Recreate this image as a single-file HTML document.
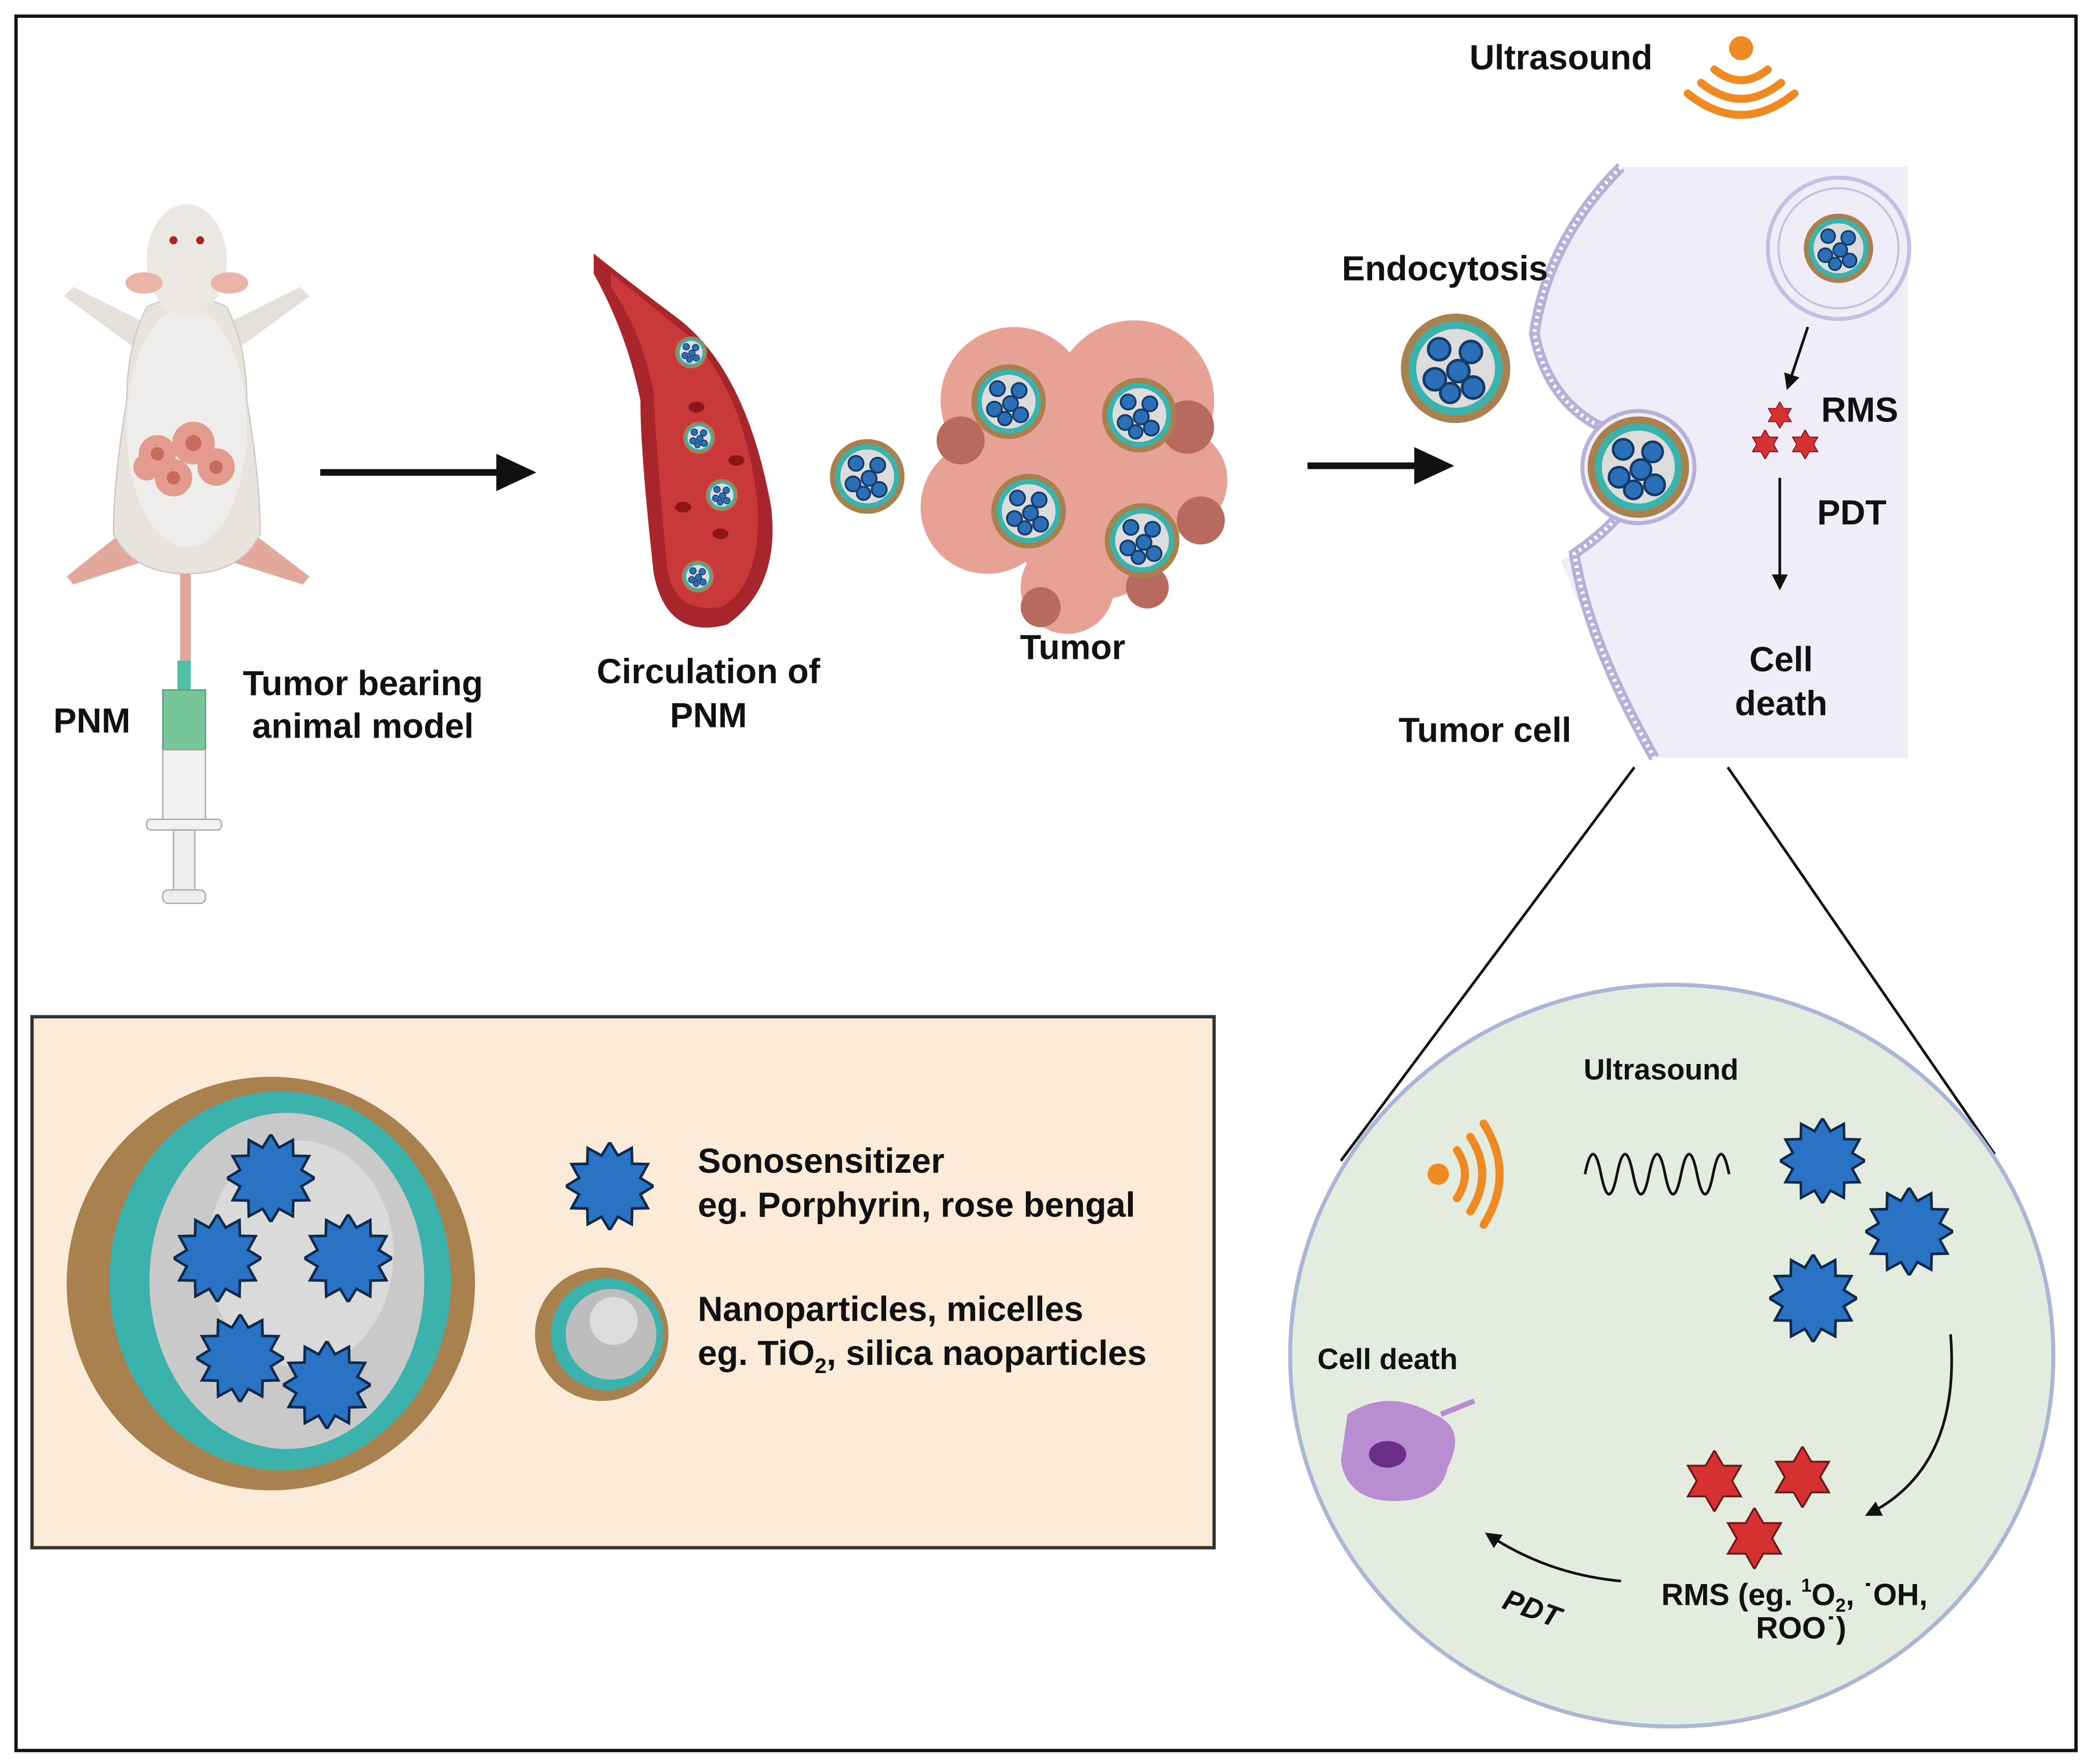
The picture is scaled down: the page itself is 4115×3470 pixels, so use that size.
<!DOCTYPE html>
<html><head><meta charset="utf-8"><style>
html,body{margin:0;padding:0;background:#fff}
svg{display:block}
text{font-family:"Liberation Sans",sans-serif;font-weight:bold;fill:#111}
</style></head><body>
<svg width="4115" height="3470" viewBox="0 0 1568 1322" xmlns="http://www.w3.org/2000/svg">
<defs>
<symbol id="np" viewBox="-1 -1 2 2">
<circle r="1" fill="#a8814f"/><circle r="0.86" fill="#3bb3ac"/><circle r="0.72" fill="#dcdcdc"/>
<circle cx="-0.3" cy="-0.35" r="0.2" fill="#2a6fb8" stroke="#163a66" stroke-width="0.05"/>
<circle cx="0.28" cy="-0.3" r="0.2" fill="#2a6fb8" stroke="#163a66" stroke-width="0.05"/>
<circle cx="-0.38" cy="0.2" r="0.2" fill="#2a6fb8" stroke="#163a66" stroke-width="0.05"/>
<circle cx="0.05" cy="0.05" r="0.2" fill="#2a6fb8" stroke="#163a66" stroke-width="0.05"/>
<circle cx="0.32" cy="0.35" r="0.2" fill="#2a6fb8" stroke="#163a66" stroke-width="0.05"/>
<circle cx="-0.1" cy="0.45" r="0.18" fill="#2a6fb8" stroke="#163a66" stroke-width="0.05"/>
</symbol>
<symbol id="spk" viewBox="-1 -1 2 2"><polygon fill="#2a72c4" stroke="#0d2a4d" stroke-width="0.06" points="1,0 0.695,0.186 0.866,0.5 0.509,0.509 0.5,0.866 0.186,0.695 0,1 -0.186,0.695 -0.5,0.866 -0.509,0.509 -0.866,0.5 -0.695,0.186 -1,0 -0.695,-0.186 -0.866,-0.5 -0.509,-0.509 -0.5,-0.866 -0.186,-0.695 0,-1 0.186,-0.695 0.5,-0.866 0.509,-0.509 0.866,-0.5 0.695,-0.186"/></symbol>
<symbol id="hex" viewBox="-1 -1 2 2"><polygon fill="#d63131" stroke="#6b1515" stroke-width="0.06" points="0,-1 0.289,-0.5 0.866,-0.5 0.577,0 0.866,0.5 0.289,0.5 0,1 -0.289,0.5 -0.866,0.5 -0.577,0 -0.866,-0.5 -0.289,-0.5"/></symbol>
<marker id="ah" viewBox="0 0 10 10" refX="8" refY="5" markerWidth="6" markerHeight="6" orient="auto"><path d="M0,0L10,5L0,10z" fill="#111"/></marker>
</defs>
<rect x="12" y="12" width="1544" height="1300" fill="#fff" stroke="#111" stroke-width="2.5"/>

<!-- mouse -->
<path d="M105,240 L55,215 L48,222 L100,260 L105,260Z M175,240 L225,215 L232,222 L180,260 L175,260Z" fill="#e5e0da"/>
<path d="M90,400 L50,432 L55,438 L110,420Z M190,400 L232,432 L227,438 L170,420Z" fill="#e3a89c"/>
<path d="M110,230 Q95,260 95,300 Q85,360 85,400 Q100,430 140,430 Q180,430 195,400 Q195,360 185,300 Q185,260 170,230 Q140,215 110,230Z" fill="#e8e3dd" stroke="#cfc8c0"/>
<ellipse cx="140" cy="320" rx="45" ry="90" fill="#efedeb"/>
<ellipse cx="140" cy="195" rx="30" ry="42" fill="#ebe7e2"/>
<ellipse cx="108" cy="212" rx="14" ry="8" fill="#eab5a8"/><ellipse cx="172" cy="212" rx="14" ry="8" fill="#eab5a8"/>
<circle cx="130" cy="180" r="3" fill="#b02020"/><circle cx="150" cy="180" r="3" fill="#b02020"/>
<g fill="#e29b8c"><circle cx="118" cy="340" r="14"/><circle cx="145" cy="332" r="16"/><circle cx="162" cy="350" r="14"/><circle cx="130" cy="358" r="14"/><circle cx="110" cy="350" r="10"/></g>
<g fill="#c76b5c"><circle cx="118" cy="340" r="5"/><circle cx="145" cy="332" r="6"/><circle cx="162" cy="350" r="5"/><circle cx="130" cy="358" r="5"/></g>
<rect x="135" y="430" width="8" height="75" fill="#e3a59a"/>
<rect x="133" y="495" width="10" height="22" fill="#4fbfa5"/>
<rect x="122" y="517" width="32" height="45" fill="#76c69a" stroke="#5a9a77"/>
<rect x="122" y="562" width="32" height="52" fill="#f2f2f2" stroke="#aaa"/>
<rect x="110" y="614" width="56" height="8" rx="3" fill="#f2f2f2" stroke="#aaa"/>
<rect x="130" y="622" width="16" height="45" fill="#eee" stroke="#aaa"/>
<rect x="122" y="667" width="32" height="10" rx="4" fill="#eee" stroke="#aaa"/>
<text x="40" y="549" font-size="26">PNM</text>
<text x="272" y="521" font-size="26" text-anchor="middle">Tumor bearing</text>
<text x="272" y="553" font-size="26" text-anchor="middle">animal model</text>

<line x1="240" y1="354" x2="378" y2="354" stroke="#111" stroke-width="5"/>
<path d="M372,340 L402,354 L372,368Z" fill="#111"/>

<!-- vessel -->
<path d="M445,190 Q470,210 510,240 Q560,280 578,380 Q585,440 545,468 Q500,480 490,430 Q480,340 480,300 Q470,250 445,205Z" fill="#a8262b"/>
<path d="M458,205 Q490,230 520,255 Q560,300 568,380 Q570,440 540,455 Q505,460 500,425 Q492,340 490,295 Q482,250 458,215Z" fill="#c9393c"/>
<g fill="#8d1418"><ellipse cx="522" cy="305" rx="6" ry="4"/><ellipse cx="512" cy="380" rx="6" ry="4"/><ellipse cx="540" cy="400" rx="6" ry="4"/><ellipse cx="552" cy="345" rx="6" ry="4"/></g>
<use href="#np" x="506" y="252" width="24" height="24"/><use href="#np" x="512" y="316" width="24" height="24"/>
<use href="#np" x="529" y="359" width="24" height="24"/><use href="#np" x="511" y="420" width="24" height="24"/>
<text x="531" y="512" font-size="26" text-anchor="middle">Circulation of</text>
<text x="531" y="545" font-size="26" text-anchor="middle">PNM</text>
<use href="#np" x="622" y="329" width="56" height="56"/>

<!-- tumor -->
<g fill="#e7a195"><circle cx="760" cy="300" r="55"/><circle cx="850" cy="300" r="60"/><circle cx="740" cy="380" r="50"/><circle cx="820" cy="390" r="60"/><circle cx="880" cy="360" r="40"/><circle cx="800" cy="440" r="35"/></g>
<g fill="#b86a5e"><circle cx="720" cy="330" r="18"/><circle cx="890" cy="320" r="20"/><circle cx="900" cy="390" r="18"/><circle cx="780" cy="455" r="15"/><circle cx="860" cy="440" r="16"/></g>
<use href="#np" x="728" y="273" width="56" height="56"/><use href="#np" x="826" y="283" width="56" height="56"/>
<use href="#np" x="743" y="355" width="56" height="56"/><use href="#np" x="828" y="377" width="56" height="56"/>
<text x="804" y="494" font-size="26" text-anchor="middle">Tumor</text>

<line x1="980" y1="349" x2="1065" y2="349" stroke="#111" stroke-width="5"/>
<path d="M1060,335 L1090,349 L1060,363Z" fill="#111"/>

<!-- cell panel -->
<text x="1170" y="52" font-size="26" text-anchor="middle">Ultrasound</text>
<circle cx="1305" cy="36" r="9" fill="#ef8a22"/>
<g fill="none" stroke="#ef8a22" stroke-width="6" stroke-linecap="round"><path d="M1285,52 Q1305,68 1325,52"/><path d="M1275,62 Q1305,86 1335,62"/><path d="M1265,70 Q1305,102 1345,70"/></g>
<path d="M1215,125 L1430,125 L1430,568 L1240,568 Q1190,470 1170,420 Q1245,380 1200,320 Q1160,300 1150,250 Q1165,180 1215,125Z" fill="#f0edf8"/>
<path d="M1215,125 Q1160,180 1150,250 Q1160,300 1200,320 Q1260,360 1180,415 Q1190,480 1240,568" fill="none" stroke="#b7b0d8" stroke-width="8"/>
<path d="M1215,125 Q1160,180 1150,250 Q1160,300 1200,320 Q1260,360 1180,415 Q1190,480 1240,568" fill="none" stroke="#fff" stroke-width="3" stroke-dasharray="2 3"/>
<circle cx="1228" cy="350" r="42" fill="#f0edf8" stroke="#b7b0d8" stroke-width="3"/>
<use href="#np" x="1190" y="312" width="76" height="76"/>
<use href="#np" x="1050" y="235" width="82" height="82"/>
<text x="1083" y="210" font-size="26" text-anchor="middle">Endocytosis</text>
<circle cx="1378" cy="186" r="53" fill="#f0edf8" stroke="#c5bfe3" stroke-width="3"/>
<circle cx="1378" cy="186" r="45" fill="none" stroke="#c5bfe3" stroke-width="1.5"/>
<use href="#np" x="1352" y="160" width="52" height="52"/>
<line x1="1355" y1="245" x2="1340" y2="290" stroke="#111" stroke-width="2" marker-end="url(#ah)"/>
<use href="#hex" x="1324" y="301" width="20" height="20"/><use href="#hex" x="1312" y="322" width="22" height="22"/><use href="#hex" x="1342" y="322" width="22" height="22"/>
<text x="1365" y="316" font-size="26">RMS</text>
<line x1="1334" y1="358" x2="1334" y2="440" stroke="#111" stroke-width="2" marker-end="url(#ah)"/>
<text x="1362" y="393" font-size="26">PDT</text>
<text x="1335" y="503" font-size="26" text-anchor="middle">Cell</text>
<text x="1335" y="536" font-size="26" text-anchor="middle">death</text>
<text x="1113" y="556" font-size="26" text-anchor="middle">Tumor cell</text>

<line x1="1225" y1="575" x2="1005" y2="870" stroke="#111" stroke-width="2"/>
<line x1="1295" y1="575" x2="1495" y2="865" stroke="#111" stroke-width="2"/>

<!-- green circle -->
<ellipse cx="1253" cy="1016" rx="286" ry="278" fill="#e4ecdf" stroke="#a9b6d6" stroke-width="3"/>
<text x="1245" y="809" font-size="22" text-anchor="middle">Ultrasound</text>
<circle cx="1078" cy="880" r="8" fill="#ef8a22"/>
<g fill="none" stroke="#ef8a22" stroke-width="6" stroke-linecap="round"><path d="M1092,862 Q1104,880 1092,898"/><path d="M1102,852 Q1120,880 1102,908"/><path d="M1112,842 Q1136,880 1112,918"/></g>
<path d="M1188,880 q6,-30 12,0 t12,0 t12,0 t12,0 t12,0 t12,0 t12,0 t12,0 t12,0" fill="none" stroke="#111" stroke-width="2"/>
<use href="#spk" x="1334" y="838" width="64" height="64"/><use href="#spk" x="1398" y="890" width="66" height="66"/><use href="#spk" x="1326" y="940" width="66" height="66"/>
<path d="M1462,1000 Q1470,1100 1400,1135" fill="none" stroke="#111" stroke-width="2" marker-end="url(#ah)"/>
<use href="#hex" x="1262" y="1087" width="46" height="46"/><use href="#hex" x="1328" y="1084" width="46" height="46"/><use href="#hex" x="1292" y="1130" width="46" height="46"/>
<text x="1345" y="1203" font-size="23" text-anchor="middle">RMS (eg. <tspan font-size="14" dy="-10">1</tspan><tspan dy="10">O</tspan><tspan font-size="14" dy="5">2</tspan><tspan dy="-5">, ˙OH,</tspan></text>
<text x="1350" y="1228" font-size="23" text-anchor="middle">ROO˙)</text>
<path d="M1215,1185 Q1160,1180 1115,1150" fill="none" stroke="#111" stroke-width="2" marker-end="url(#ah)"/>
<text x="1125" y="1205" font-size="22" font-style="italic" transform="rotate(20 1125 1205)">PDT</text>
<text x="1040" y="1026" font-size="22" text-anchor="middle">Cell death</text>
<path d="M1010,1060 Q1040,1040 1075,1060 Q1100,1070 1085,1100 Q1080,1125 1045,1125 Q1010,1125 1005,1095Z" fill="#b98dd2"/>
<ellipse cx="1040" cy="1090" rx="14" ry="10" fill="#6a2f86"/>
<line x1="1080" y1="1060" x2="1105" y2="1050" stroke="#b98dd2" stroke-width="4"/>

<!-- legend box -->
<rect x="24" y="762" width="886" height="398" fill="#fcebd9" stroke="#333" stroke-width="2.5"/>
<ellipse cx="203" cy="962" rx="153" ry="155" fill="#a8814f"/>
<ellipse cx="210" cy="960" rx="128" ry="142" fill="#3bb3ac"/>
<ellipse cx="215" cy="960" rx="103" ry="126" fill="#c9c9c9"/>
<ellipse cx="225" cy="940" rx="70" ry="85" fill="#dadada"/>
<use href="#spk" x="170" y="850" width="66" height="66"/><use href="#spk" x="130" y="910" width="66" height="66"/>
<use href="#spk" x="228" y="910" width="66" height="66"/><use href="#spk" x="147" y="985" width="66" height="66"/>
<use href="#spk" x="212" y="1005" width="66" height="66"/>
<use href="#spk" x="424" y="856" width="66" height="66"/>
<text x="523" y="879" font-size="26">Sonosensitizer</text>
<text x="523" y="912" font-size="26">eg. Porphyrin, rose bengal</text>
<circle cx="451" cy="1000" r="50" fill="#a8814f"/><circle cx="455" cy="1000" r="42" fill="#3bb3ac"/><circle cx="458" cy="1000" r="34" fill="#bdbdbd"/><circle cx="460" cy="990" r="18" fill="#dcdcdc"/>
<text x="523" y="990" font-size="26">Nanoparticles, micelles</text>
<text x="523" y="1023" font-size="26">eg. TiO<tspan font-size="16" dy="6">2</tspan><tspan dy="-6">, silica naoparticles</tspan></text>
</svg>
</body></html>
